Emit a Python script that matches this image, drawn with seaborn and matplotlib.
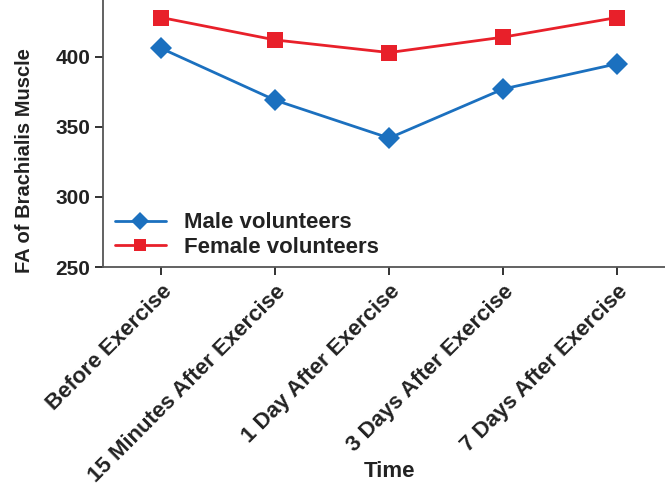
import numpy as np
import pandas as pd
import seaborn as sns
import matplotlib.pyplot as plt

times = ["Before Exercise", "15 Minutes After Exercise", "1 Day After Exercise",
         "3 Days After Exercise", "7 Days After Exercise"]
male = [406, 369, 342, 377, 395]
female = [428, 412, 403, 414, 428]

df = pd.DataFrame({
    "Time": times * 2,
    "FA": male + female,
    "Group": ["Male volunteers"] * len(times) + ["Female volunteers"] * len(times),
})

sns.set_style("ticks")
plt.rcParams["font.family"] = ["Liberation Sans", "DejaVu Sans"]

fig = plt.figure(figsize=(6.65, 4.86), dpi=100)
ax = fig.add_axes([0.155, 0.4506, 0.845, 0.5494])

sns.lineplot(data=df, x="Time", y="FA", hue="Group", style="Group",
             palette={"Male volunteers": "#1b70bf", "Female volunteers": "#e8202a"},
             markers={"Male volunteers": "D", "Female volunteers": "s"},
             dashes=False, markersize=11, markeredgewidth=0, linewidth=2,
             sort=False, ax=ax, clip_on=False)

ax.set_ylim(250, 440.5)
ax.set_xlim(-0.51, 4.42)
ax.set_yticks([250, 300, 350, 400])
ax.set_xticks(range(len(times)))
ax.set_xticklabels(times, rotation=45, ha="right", rotation_mode="anchor",
                   fontsize=16, fontweight="bold", color="#222222")
ax.tick_params(axis="y", labelsize=15, colors="#222222", length=6, width=1.3, pad=3)
ax.tick_params(axis="x", length=6, width=1.3, colors="#222222", pad=4)
for lab in ax.get_yticklabels():
    lab.set_fontweight("bold")

ax.set_xlabel("Time", fontsize=16, fontweight="bold", color="#222222")
ax.xaxis.set_label_coords(0.509, -0.765)
ax.xaxis.label.set_va("center")
ax.set_ylabel("FA of Brachialis Muscle", fontsize=14.5, fontweight="bold",
              color="#222222")
ax.yaxis.set_label_coords(-0.14, 0.40)
ax.yaxis.label.set_va("center")

sns.despine(ax=ax)
ax.spines["left"].set_linewidth(1.3)
ax.spines["bottom"].set_linewidth(1.3)
ax.spines["left"].set_color("#555555")
ax.spines["bottom"].set_color("#555555")

leg = ax.legend(loc="lower left", bbox_to_anchor=(-0.015, -0.04), frameon=False,
                prop={"size": 16, "weight": "bold"}, handlelength=2.3,
                labelspacing=0.15, handletextpad=0.8, markerscale=0.8)
for t in leg.get_texts():
    t.set_color("#222222")

fig.savefig("out.png", dpi=100)
